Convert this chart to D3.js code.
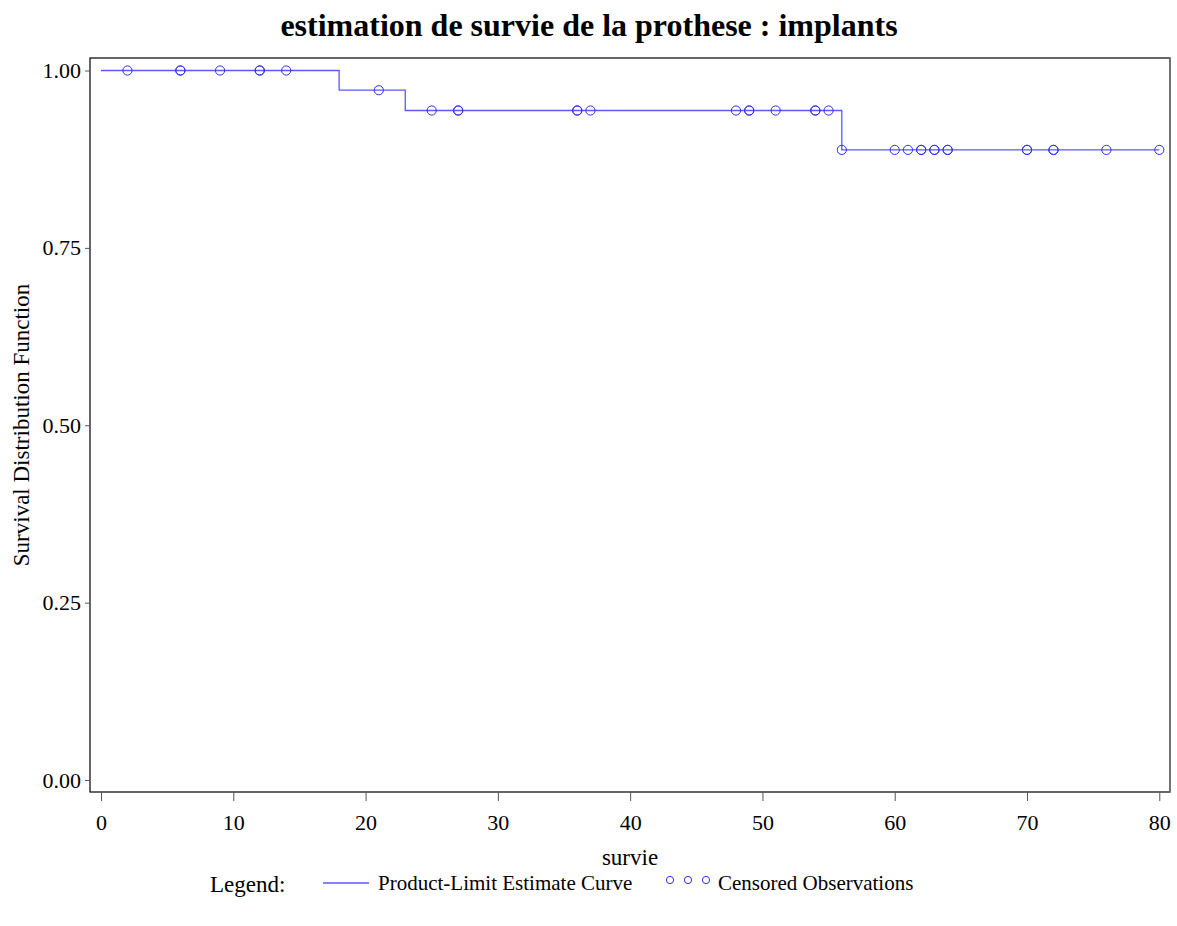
<!DOCTYPE html>
<html>
<head>
<meta charset="utf-8">
<script src="https://cdn.jsdelivr.net/npm/d3@7"></script>
<style>
  body { margin: 0; background: #fff; }
  text { font-family: "Liberation Serif", "Times New Roman", serif; fill: #000; }
</style>
</head>
<body>
<script>
// Kaplan-Meier steps: time of event, survival after it
const stepTimes = [0, 18, 23, 56, 80];
const stepValues = [1.0, 0.9722, 0.9436, 0.8881, 0.8881];

// censored observation times (duplicates are drawn twice)
const censored = [2, 6, 6, 9, 12, 12, 14, 21, 25, 27, 27, 36, 36, 37,
                  48, 49, 49, 51, 54, 54, 55, 56, 60, 61, 62, 62, 63, 63, 64, 64,
                  70, 70, 72, 72, 76, 80];

const xTicks = [0, 10, 20, 30, 40, 50, 60, 70, 80];
const yTicks = [0, 0.25, 0.5, 0.75, 1.0];

const LINE_BLUE = '#5a5aff';
const DOT_BLUE = '#3030e8';

const svg = d3.select('body')
              .append('svg')
                .attr('width', 1177)
                .attr('height', 926);

const frame = {left: 90, right: 1170, top: 58, bottom: 792};

const x = d3.scaleLinear().domain([0, 80]).range([101, 1159.3]);
const y = d3.scaleLinear().domain([0, 1]).range([780, 70.5]);

function survivalAt(t) {
    let s = stepValues[0];
    for (let i = 0; i < stepTimes.length; i++) {
        if (stepTimes[i] <= t) s = stepValues[i];
    }
    return s;
}

// frame
svg.append('rect')
    .attr('x', frame.left).attr('y', frame.top)
    .attr('width', frame.right - frame.left).attr('height', frame.bottom - frame.top)
    .attr('fill', 'none').attr('stroke', '#000').attr('stroke-width', 1.2);
svg.append('line')
    .attr('x1', frame.right).attr('x2', frame.right)
    .attr('y1', frame.top).attr('y2', frame.bottom)
    .attr('stroke', '#777').attr('stroke-width', 1.5);

// axes
const xAxis = svg.append('g')
    .attr('transform', `translate(0,${frame.bottom})`)
    .call(d3.axisBottom(x).tickValues(xTicks).tickSize(9).tickPadding(13).tickFormat(d3.format('d')));
xAxis.select('.domain').remove();
xAxis.selectAll('line').attr('stroke', '#555');
xAxis.selectAll('text').style('font-size', '22px').style('font-family', '"Liberation Serif", serif');

const yAxis = svg.append('g')
    .attr('transform', `translate(${frame.left},0)`)
    .call(d3.axisLeft(y).tickValues(yTicks).tickSize(5).tickPadding(4).tickFormat(d3.format('.2f')));
yAxis.select('.domain').remove();
yAxis.selectAll('line').attr('stroke', '#555');
yAxis.selectAll('text').style('font-size', '22px').style('font-family', '"Liberation Serif", serif');

// curve
const line = d3.line()
    .x(d => x(d[0]))
    .y(d => y(d[1]))
    .curve(d3.curveStepAfter);

svg.append('path')
    .datum(stepTimes.map((t, i) => [t, stepValues[i]]))
    .attr('d', line)
    .attr('fill', 'none')
    .attr('stroke', LINE_BLUE)
    .attr('stroke-width', 1.3);

svg.append('g').selectAll('circle')
    .data(censored)
    .enter()
      .append('circle')
        .attr('cx', d => x(d))
        .attr('cy', d => y(survivalAt(d)))
        .attr('r', 4.6)
        .attr('fill', 'none')
        .attr('stroke', DOT_BLUE)
        .attr('stroke-width', 1);

// titles
svg.append('text')
    .attr('x', 589).attr('y', 36)
    .attr('text-anchor', 'middle')
    .style('font-size', '32px').style('font-weight', 'bold')
    .text('estimation de survie de la prothese : implants');

svg.append('text')
    .attr('x', 630).attr('y', 865)
    .attr('text-anchor', 'middle')
    .style('font-size', '23px')
    .text('survie');

svg.append('text')
    .attr('transform', 'translate(29,425) rotate(-90)')
    .attr('text-anchor', 'middle')
    .style('font-size', '23px')
    .text('Survival Distribution Function');

// legend
const legend = svg.append('g');
legend.append('text').attr('x', 210).attr('y', 892).style('font-size', '23px').text('Legend:');
legend.append('line')
    .attr('x1', 323).attr('x2', 369).attr('y1', 883).attr('y2', 883)
    .attr('stroke', LINE_BLUE).attr('stroke-width', 1.3);
legend.append('text').attr('x', 378).attr('y', 890).style('font-size', '21px').text('Product-Limit Estimate Curve');
legend.selectAll('circle')
    .data([670, 688, 706])
    .enter()
      .append('circle')
        .attr('cx', d => d).attr('cy', 880).attr('r', 3.6)
        .attr('fill', 'none').attr('stroke', DOT_BLUE).attr('stroke-width', 1);
legend.append('text').attr('x', 718).attr('y', 890).style('font-size', '21px').text('Censored Observations');
</script>
</body>
</html>
